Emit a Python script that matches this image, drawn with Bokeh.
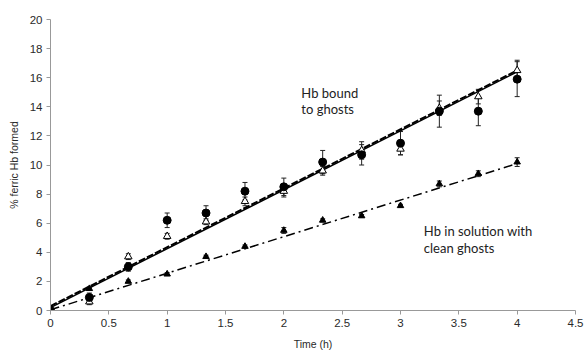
from bokeh.plotting import figure
from bokeh.models import Range1d, FixedTicker, ColumnDataSource, Whisker, TeeHead
from bokeh.core.properties import value
from bokeh.embed import file_html
from bokeh.resources import INLINE

# Data
time_h = [0, 0.333, 0.667, 1, 1.333, 1.667, 2, 2.333, 2.667, 3, 3.333, 3.667, 4]
bound_circle = [0, 0.9, 3.0, 6.2, 6.7, 8.2, 8.5, 10.2, 10.7, 11.5, 13.7, 13.7, 15.9]
bound_circle_err = [0, 0.3, 0.3, 0.5, 0.5, 0.6, 0.6, 0.8, 0.7, 0.8, 1.1, 1.0, 1.2]
bound_tri = [0, 0.6, 3.7, 5.1, 6.1, 7.5, 8.2, 9.6, 11.0, 11.1, 13.9, 14.7, 16.5]
bound_tri_err = [0, 0.2, 0.2, 0.2, 0.2, 0.3, 0.4, 0.3, 0.6, 0.4, 0.5, 0.5, 0.7]
solution_tri = [0, 1.5, 2.0, 2.5, 3.7, 4.4, 5.5, 6.2, 6.5, 7.2, 8.7, 9.4, 10.2]
solution_err = [0, 0.1, 0.1, 0.1, 0.1, 0.1, 0.2, 0.1, 0.1, 0.1, 0.2, 0.2, 0.3]

fit_x = [0, 4]
fit_solid_y = [0.2, 16.4]
fit_dashed_y = [0.3, 16.5]
fit_dashdot_y = [0.05, 10.1]

x_ticks = [0, 0.5, 1, 1.5, 2, 2.5, 3, 3.5, 4, 4.5]
x_tick_labels = ["0", "0.5", "1", "1.5", "2", "2.5", "3", "3.5", "4", "4.5"]
y_ticks = [0, 2, 4, 6, 8, 10, 12, 14, 16, 18, 20]

p = figure(width=587, height=352, frame_width=525, frame_height=291,
           output_backend="svg", toolbar_location=None,
           x_range=Range1d(0, 4.5), y_range=Range1d(0, 20),
           min_border_left=50, min_border_right=12, min_border_top=19, min_border_bottom=42)
p.outline_line_color = None
p.xgrid.visible = False
p.ygrid.visible = False
p.background_fill_color = "white"

axis_col = "#999999"
lab_col = "#2a2a2a"
for ax in (p.xaxis, p.yaxis):
    ax.axis_line_color = axis_col
    ax.major_tick_line_color = axis_col
    ax.minor_tick_line_color = None
    ax.major_tick_in = 0
    ax.major_tick_out = 4
    ax.major_label_text_font = "Liberation Sans"
    ax.major_label_text_font_size = "11.5px"
    ax.major_label_text_color = lab_col
    ax.axis_label_text_font = "Liberation Sans"
    ax.axis_label_text_font_size = "10.5px"
    ax.axis_label_text_font_style = "normal"
    ax.axis_label_text_color = lab_col

p.xaxis.ticker = FixedTicker(ticks=x_ticks)
p.xaxis.major_label_overrides = {t: l for t, l in zip(x_ticks, x_tick_labels)}
p.xaxis.major_label_standoff = 4
p.yaxis.ticker = FixedTicker(ticks=y_ticks)
p.yaxis.major_label_standoff = 4
p.xaxis.axis_label = "Time (h)"
p.yaxis.axis_label = "% ferric Hb formed"
p.xaxis.axis_label_standoff = 8
p.yaxis.axis_label_standoff = 7

# fit lines
p.line(fit_x, fit_dashed_y, line_color="black", line_width=2, line_dash="7 2")
p.line(fit_x, fit_solid_y, line_color="black", line_width=1.5)
p.line(fit_x, fit_dashdot_y, line_color="black", line_width=1.5, line_dash="9 4 2 4")

def lows(v, e):
    return [a - b for a, b in zip(v, e)]

def highs(v, e):
    return [a + b for a, b in zip(v, e)]

for vals, errs in ((bound_tri, bound_tri_err), (bound_circle, bound_circle_err), (solution_tri, solution_err)):
    src = ColumnDataSource(dict(x=time_h, lo=lows(vals, errs), hi=highs(vals, errs)))
    w = Whisker(source=src, base="x", lower="lo", upper="hi", line_color="#222222", line_width=1,
                upper_head=TeeHead(size=5, line_color="#222222"),
                lower_head=TeeHead(size=5, line_color="#222222"))
    p.add_layout(w)

p.scatter(time_h, bound_tri, marker="triangle", size=7.5, fill_color="white", line_color="black", line_width=1)
p.scatter(time_h, bound_circle, marker="circle", size=8, fill_color="black", line_color="black")
p.scatter(time_h, solution_tri, marker="triangle", size=6.5, fill_color="black", line_color="black")

p.text([2.15, 2.15], [14.95, 13.85], text=["Hb bound", "to ghosts"], text_font=value("Lato"),
       text_font_size="13px", text_color="#222222", text_baseline="middle", text_align="left")
p.text([3.2, 3.2], [5.43, 4.3], text=["Hb in solution with", "clean ghosts"], text_font=value("Lato"),
       text_font_size="13px", text_color="#222222", text_baseline="middle", text_align="left")

open("out.html", "w").write(file_html(p, INLINE))
